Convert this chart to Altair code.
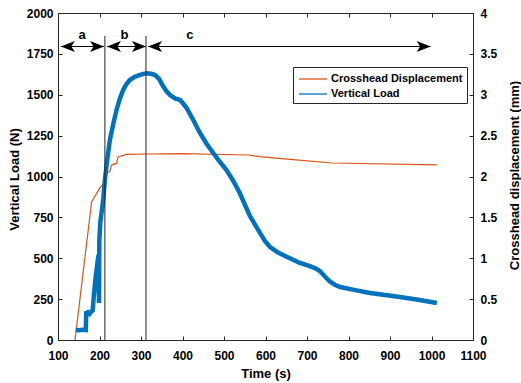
import altair as alt
import pandas as pd

# ---- data ----
time_load = [143, 150, 160, 167, 168, 172, 176, 180, 183.5, 187, 191, 195, 197.5, 198.8,
             199.6, 202, 206, 209, 213, 219, 225, 233, 241, 249, 257, 265, 273, 285, 298,
             306, 314, 324, 334, 344, 354, 362, 370, 382, 394, 402, 410, 426, 442, 458, 474,
             490, 506, 522, 538, 562, 587, 599, 611, 629, 647, 683, 707, 719, 731, 743, 755, 767, 780,
             816, 852, 888, 924, 968, 1013]
load = [61, 60, 62, 61, 165, 170, 160, 175, 180, 290, 390, 470, 520, 226,
        610, 720, 800, 860, 979, 1110, 1223, 1320, 1407, 1475, 1529, 1565, 1590, 1610, 1621,
        1628, 1631, 1628, 1621, 1595, 1549, 1520, 1498, 1478, 1468, 1445, 1419, 1345, 1266, 1200, 1144,
        1090, 1040, 975, 899, 760, 654, 605, 569, 537, 514, 471, 452, 440, 422, 388, 358, 338, 324,
        305, 287, 275, 263, 246, 226]

time_disp = [141, 181, 201, 211, 213, 225, 229, 241, 245, 265, 314, 400, 559, 587, 659, 760, 1013]
disp = [0, 1.69, 1.86, 1.92, 2.04, 2.06, 2.14, 2.16, 2.24, 2.27, 2.275, 2.28, 2.263, 2.242, 2.21, 2.165, 2.141]

series_names = ["Crosshead Displacement", "Vertical Load"]
series_colors = ["#D95319", "#0072BD"]

rule_time = [213, 312]
rule_top = [1860, 1860]

arrow_start = [107, 218, 317]
arrow_end = [211, 312, 998]
arrow_level = [1795, 1795, 1795]

label_text = ["a", "b", "c"]
label_time = [158, 260, 418]
label_level = [1868, 1868, 1868]

x_ticks = list(range(100, 1101, 100))
load_ticks = list(range(0, 2001, 250))
disp_ticks = [0, 0.5, 1, 1.5, 2, 2.5, 3, 3.5, 4]

W, H = 415, 327
FONT = "Liberation Sans"

blue_df = pd.DataFrame({"t": time_load, "v": load, "series": series_names[1]})
orange_df = pd.DataFrame({"t": time_disp, "v": disp, "series": series_names[0]})
rule_df = pd.DataFrame({"t": rule_time, "top": rule_top, "bottom": [0] * len(rule_time)})
arrow_df = pd.DataFrame({"s": arrow_start, "e": arrow_end, "v": arrow_level})
head_df = pd.DataFrame({
    "t": arrow_start + arrow_end,
    "v": arrow_level + arrow_level,
    "dir": ["L"] * len(arrow_start) + ["R"] * len(arrow_end),
})
label_df = pd.DataFrame({"t": label_time, "v": label_level, "txt": label_text})

xscale = alt.Scale(domain=[100, 1100], nice=False, zero=False)
load_scale = alt.Scale(domain=[0, 2000], nice=False, zero=False)
disp_scale = alt.Scale(domain=[0, 4], nice=False, zero=False)
color_scale = alt.Scale(domain=series_names, range=series_colors)

color_with_legend = alt.Color(
    "series:N",
    scale=color_scale,
    legend=alt.Legend(title=None, orient="none", legendX=235, legendY=54, symbolStrokeWidth=1.3),
)
color_no_legend = alt.Color("series:N", scale=color_scale, legend=None)

x_main = alt.Axis(orient="bottom", title="Time (s)", values=x_ticks, format="d", ticks=False, domain=True,
                  labelPadding=10, labelOverlap=False, labelFlush=False,
                  titleX=W / 2, titleY=33, titleBaseline="middle", titleAlign="center")
y_left = alt.Axis(orient="left", title="Vertical Load (N)", values=load_ticks, format="d", ticks=False,
                  labelPadding=5, labelOverlap=False, labelFlush=False,
                  titleX=-44, titleY=166, titleAngle=270, titleBaseline="middle", titleAlign="center")
y_right = alt.Axis(orient="right", title="Crosshead displacement (mm)", values=disp_ticks, format="~g",
                   ticks=False, labelPadding=7, labelOverlap=False, labelFlush=False,
                   titleX=41, titleY=162, titleAngle=270, titleBaseline="middle", titleAlign="center")
x_tick_bottom = alt.Axis(orient="top", offset=-H, values=x_ticks, labels=False, domain=False,
                         ticks=True, tickSize=4, title=None)
x_tick_top = alt.Axis(orient="bottom", offset=-H, values=x_ticks, labels=False, domain=True,
                      ticks=True, tickSize=4, title=None)
y_tick_left = alt.Axis(orient="right", offset=-W, values=load_ticks, labels=False, domain=False,
                       ticks=True, tickSize=4, title=None)
y_tick_right = alt.Axis(orient="left", offset=-W, values=disp_ticks, labels=False, domain=False,
                        ticks=True, tickSize=4, title=None)

orange = alt.Chart(orange_df).mark_line(strokeWidth=1.2).encode(
    x=alt.X("t:Q", scale=xscale, axis=x_tick_bottom),
    y=alt.Y("v:Q", scale=disp_scale, axis=y_right),
    color=color_with_legend,
)
orange_ticks = alt.Chart(orange_df).mark_line(strokeOpacity=0).encode(
    x=alt.X("t:Q", scale=xscale, axis=None),
    y=alt.Y("v:Q", scale=disp_scale, axis=y_tick_right),
)
blue = alt.Chart(blue_df).mark_line(strokeWidth=4.5).encode(
    x=alt.X("t:Q", scale=xscale, axis=x_main),
    y=alt.Y("v:Q", scale=load_scale, axis=y_left),
    color=color_no_legend,
)
rules = alt.Chart(rule_df).mark_rule(color="#222222", strokeWidth=1).encode(
    x=alt.X("t:Q", scale=xscale, axis=x_tick_top),
    y=alt.Y("top:Q", scale=load_scale, axis=y_tick_left),
    y2="bottom:Q",
)
arrows = alt.Chart(arrow_df).mark_rule(color="black", strokeWidth=1).encode(
    x=alt.X("s:Q", scale=xscale, axis=None),
    x2="e:Q",
    y=alt.Y("v:Q", scale=load_scale, axis=None),
)
pathR = "M0,0L-2,-0.8L-1.5,0L-2,0.8Z"
pathL = "M0,0L2,-0.8L1.5,0L2,0.8Z"
heads = alt.Chart(head_df).mark_point(filled=True, color="black", opacity=1, size=196).encode(
    x=alt.X("t:Q", scale=xscale, axis=None),
    y=alt.Y("v:Q", scale=load_scale, axis=None),
    shape=alt.Shape("dir:N", scale=alt.Scale(domain=["L", "R"], range=[pathL, pathR]), legend=None),
)
texts = alt.Chart(label_df).mark_text(font=FONT, fontSize=13, fontWeight="bold", color="black",
                                      baseline="middle", align="center").encode(
    x=alt.X("t:Q", scale=xscale, axis=None),
    y=alt.Y("v:Q", scale=load_scale, axis=None),
    text="txt:N",
)

chart = alt.layer(orange, orange_ticks, blue, rules, arrows, heads, texts).resolve_scale(
    y="independent"
).resolve_axis(
    x="independent", y="independent"
).properties(
    width=W, height=H,
    autosize=alt.AutoSizeParams(type="none"),
    padding={"left": 58, "top": 13, "right": 48, "bottom": 43},
    background="white",
).configure_view(stroke=None).configure_axis(
    labelFont=FONT, labelFontSize=12, labelFontWeight="bold", labelColor="#000000",
    titleFont=FONT, titleFontSize=13, titleFontWeight="bold", titleColor="#000000",
    domainColor="#262626", tickColor="#262626", domainWidth=1, tickWidth=1, grid=False,
).configure_legend(
    labelFont=FONT, labelFontSize=11, labelFontWeight="bold", labelColor="#000000",
    symbolType="M-2,0L2,0", symbolSize=196, symbolStrokeWidth=1.3, symbolOffset=8, labelOffset=10,
    strokeColor="#262626", fillColor="white", padding=4, rowPadding=2,
)

chart.save("out.html", embed_options={"renderer": "svg", "actions": False})
